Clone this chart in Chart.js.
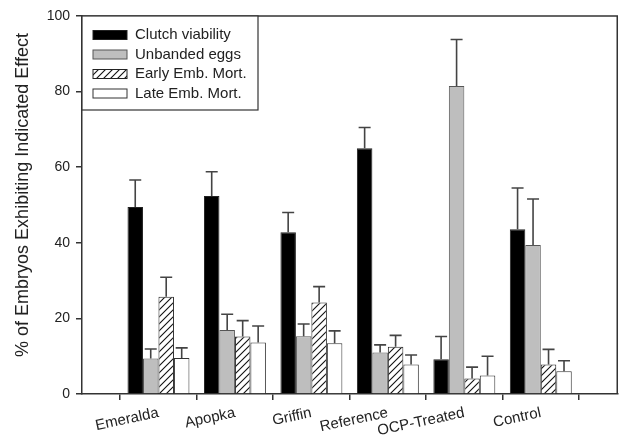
<!DOCTYPE html>
<html>
<head>
<meta charset="utf-8">
<script src="https://cdn.jsdelivr.net/npm/chart.js@4.4.1/dist/chart.umd.min.js"></script>
<style>
  html, body { margin: 0; padding: 0; background: #fff; }
  #wrap { width: 625px; height: 439px; }
</style>
</head>
<body>
<div id="wrap"><canvas id="chart" width="625" height="439"></canvas></div>
<script>
const sites = ["Emeralda", "Apopka", "Griffin", "Reference", "OCP-Treated", "Control"];
const yTicks = [0, 20, 40, 60, 80, 100];
const yTitle = "% of Embryos Exhibiting Indicated Effect";

const clutchViability = [49.5, 52.4, 42.8, 65.0, 9.2, 43.6];
const clutchErr = [7.1, 6.4, 5.2, 5.5, 6.0, 10.9];
const unbandedEggs = [9.4, 16.9, 15.3, 11.0, 81.5, 39.4];
const unbandedErr = [2.5, 4.2, 3.2, 2.0, 12.3, 12.2];
const earlyMort = [25.7, 15.2, 24.2, 12.5, 4.1, 7.8];
const earlyErr = [5.2, 4.2, 4.2, 3.0, 3.0, 4.0];
const lateMort = [9.5, 13.6, 13.4, 7.8, 4.9, 6.0];
const lateErr = [2.7, 4.4, 3.3, 2.5, 5.1, 2.8];

// empty slot on each side, like the original axis
const pad = (arr) => [null, ...arr, null];

function hatch() {
  const c = document.createElement("canvas");
  c.width = 7;
  c.height = 7;
  const g = c.getContext("2d");
  g.fillStyle = "#fff";
  g.fillRect(0, 0, 7, 7);
  g.strokeStyle = "#111";
  g.lineWidth = 1.1;
  g.beginPath();
  g.moveTo(-1, 8); g.lineTo(8, -1);
  g.moveTo(-1, 1); g.lineTo(1, -1);
  g.moveTo(6, 8); g.lineTo(8, 6);
  g.stroke();
  return g.createPattern(c, "repeat");
}

const font = "Liberation Sans, Arial, Helvetica, sans-serif";

const errorBars = {
  id: "errorBars",
  afterDatasetsDraw(chart) {
    const ctx = chart.ctx;
    const y = chart.scales.y;
    ctx.save();
    ctx.strokeStyle = "#444";
    ctx.lineWidth = 1.6;
    chart.data.datasets.forEach((ds, i) => {
      const meta = chart.getDatasetMeta(i);
      meta.data.forEach((bar, j) => {
        const v = ds.data[j];
        const e = ds.err[j];
        if (v == null || e == null) return;
        const top = y.getPixelForValue(v + e);
        ctx.beginPath();
        ctx.moveTo(bar.x, bar.y);
        ctx.lineTo(bar.x, top);
        ctx.moveTo(bar.x - 6, top);
        ctx.lineTo(bar.x + 6, top);
        ctx.stroke();
      });
    });
    ctx.restore();
  },
};

const frame = {
  id: "frame",
  afterDraw(chart) {
    const a = chart.chartArea;
    const ctx = chart.ctx;
    ctx.save();
    ctx.strokeStyle = "#333";
    ctx.lineWidth = 1.5;
    ctx.beginPath();
    ctx.moveTo(a.left, a.top);
    ctx.lineTo(a.right, a.top);
    ctx.lineTo(a.right, a.bottom);
    ctx.stroke();

    // y title, sits a little above the plot's middle in the original
    ctx.save();
    ctx.translate(23, 195);
    ctx.rotate(-Math.PI / 2);
    ctx.font = "18px " + font;
    ctx.fillStyle = "#222";
    ctx.textAlign = "center";
    ctx.textBaseline = "middle";
    ctx.fillText(yTitle, 0, 0);
    ctx.restore();

    // legend box in the top-left corner
    const x0 = a.left, y0 = a.top, w = 176, h = 94;
    ctx.fillStyle = "#fff";
    ctx.fillRect(x0, y0, w, h);
    ctx.strokeStyle = "#333";
    ctx.lineWidth = 1.2;
    ctx.strokeRect(x0, y0, w, h);
    ctx.font = "15px " + font;
    ctx.textBaseline = "middle";
    chart.data.datasets.forEach((ds, i) => {
      const cy = y0 + 19 + i * 19.5;
      ctx.fillStyle = ds.backgroundColor;
      ctx.fillRect(x0 + 11, cy - 4.5, 34, 9);
      ctx.strokeStyle = ds.borderColor;
      ctx.lineWidth = 1;
      ctx.strokeRect(x0 + 11, cy - 4.5, 34, 9);
      ctx.fillStyle = "#222";
      ctx.fillText(ds.label, x0 + 53, cy);
    });
    ctx.restore();
  },
};

const barOpts = { borderWidth: 1, barPercentage: 1, categoryPercentage: 0.81 };

new Chart(document.getElementById("chart"), {
  type: "bar",
  data: {
    labels: ["", ...sites, ""],
    datasets: [
      { label: "Clutch viability", data: pad(clutchViability), err: pad(clutchErr),
        backgroundColor: "#000", borderColor: "#222", ...barOpts },
      { label: "Unbanded eggs", data: pad(unbandedEggs), err: pad(unbandedErr),
        backgroundColor: "#bebebe", borderColor: "#555", ...barOpts },
      { label: "Early Emb. Mort.", data: pad(earlyMort), err: pad(earlyErr),
        backgroundColor: hatch(), borderColor: "#222", ...barOpts },
      { label: "Late Emb. Mort.", data: pad(lateMort), err: pad(lateErr),
        backgroundColor: "#fff", borderColor: "#333", ...barOpts },
    ],
  },
  options: {
    responsive: false,
    animation: false,
    layout: { padding: { top: 16, right: 3, left: 0, bottom: 0 } },
    plugins: { legend: { display: false }, tooltip: { enabled: false } },
    scales: {
      x: {
        offset: false,
        grid: { display: true, drawOnChartArea: false, tickLength: 6, color: "#333", lineWidth: 1.5 },
        border: { color: "#333", width: 1.5 },
        ticks: { color: "#222", font: { family: font, size: 15 }, minRotation: 12, maxRotation: 12, padding: 4, autoSkip: false },
        afterFit(s) { s.height = 45; },
      },
      y: {
        min: 0,
        max: 100,
        afterBuildTicks(s) { s.ticks = yTicks.map((v) => ({ value: v })); },
        grid: { display: true, drawOnChartArea: false, tickLength: 6, color: "#333", lineWidth: 1.5 },
        border: { color: "#333", width: 1.5 },
        ticks: { color: "#222", font: { family: font, size: 14 }, padding: 6 },
        afterFit(s) { s.width = 82; },
      },
    },
  },
  plugins: [errorBars, frame],
});
</script>
</body>
</html>
